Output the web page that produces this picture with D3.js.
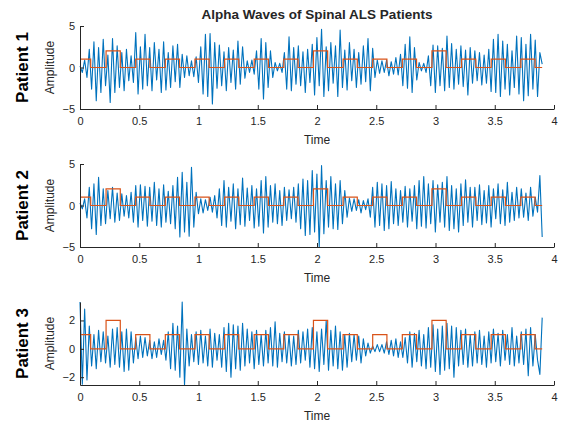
<!DOCTYPE html>
<html>
<head>
<meta charset="utf-8">
<script src="https://cdn.jsdelivr.net/npm/d3@7"></script>
<style>
  body { margin: 0; background: #fff; }
  text { font-family: "Liberation Sans", Arial, sans-serif; fill: #262626; }
</style>
</head>
<body>
<div id="chart"></div>
<script>
// Blue signal: one extremum per sample
var sampleStep = 0.0196;

var patient1 = [
  0.2,-0.6,0.9,-1.2,2.2,-2.6,3.1,-4.0,2.4,-3.0,
  3.4,-2.2,1.5,-4.2,3.5,-3.0,2.6,-2.4,1.8,-2.8,
  2.2,-1.6,1.4,-1.8,4.2,-3.2,2.5,-2.6,4.0,-2.2,
  2.4,-2.8,3.0,-1.5,2.2,-3.0,3.1,-2.7,1.8,-2.4,
  2.6,-1.7,2.8,-2.4,1.6,-1.2,1.4,-1.0,0.8,-1.1,
  1.3,-1.8,2.5,-3.2,4.0,-3.5,4.1,-4.4,3.0,-2.5,
  2.7,-2.2,1.9,-2.8,2.4,-1.8,2.1,-2.6,3.2,-2.0,
  2.5,-1.3,0.8,-0.6,0.9,-0.8,2.0,-2.6,3.5,-3.8,
  3.0,-2.4,2.0,-1.2,0.6,-0.4,0.5,-0.6,1.8,-2.6,
  3.7,-2.8,2.4,-2.0,2.6,-2.2,1.9,-3.0,2.2,-1.8,
  2.8,-3.3,3.6,-2.2,4.6,-3.5,2.5,-2.8,3.0,-1.9,
  2.6,-3.5,4.5,-2.4,2.1,-2.7,3.0,-1.6,2.2,-2.4,
  1.8,-2.0,2.6,-1.7,3.5,-2.8,2.3,-1.2,0.9,-0.7,
  0.8,-0.6,0.9,-1.0,0.7,-0.8,1.2,-0.9,1.6,-2.2,
  2.8,-2.5,3.7,-3.0,2.4,-1.5,0.6,-0.4,0.5,-0.6,
  1.4,-2.2,2.7,-3.0,2.6,-2.2,2.3,-2.8,3.8,-2.4,
  2.9,-2.6,2.2,-2.0,2.6,-2.3,2.1,-3.3,2.4,-1.9,
  2.0,-1.6,1.8,-2.1,1.5,-1.9,2.2,-2.9,3.4,-3.0,
  4.0,-3.5,3.2,-2.6,2.8,-3.3,2.0,-2.4,3.8,-3.2,
  3.6,-4.0,2.8,-3.4,4.0,-2.6,3.3,-3.5,1.8,0.4
];

var patient2 = [
  0.3,-0.4,0.8,-1.5,2.2,-2.8,2.6,-3.5,3.4,-2.4,
  2.0,-2.2,1.8,-1.6,2.2,-2.0,1.5,-1.8,1.4,-1.3,
  1.2,-1.5,1.6,-2.0,2.4,-2.6,2.5,-1.8,2.3,-2.5,
  2.2,-1.9,2.8,-2.4,2.0,-2.6,2.5,-2.0,1.7,-2.2,
  2.4,-2.8,3.4,-3.8,4.0,-3.2,2.8,-3.7,4.6,-2.6,
  1.6,-1.0,0.8,-0.9,0.7,-0.6,1.0,-0.8,1.2,-1.5,
  2.0,-2.4,3.0,-2.6,2.2,-1.9,2.6,-2.8,2.0,-2.3,
  3.3,-2.5,2.1,-1.8,2.4,-2.7,2.0,-2.5,3.0,-3.3,
  3.5,-2.6,2.4,-2.0,2.6,-2.2,1.8,-2.4,2.2,-1.8,
  1.9,-1.6,2.2,-2.0,2.6,-2.8,3.2,-3.6,3.0,-3.5,
  4.2,-3.2,3.8,-5.0,4.8,-3.4,3.0,-2.6,3.5,-2.8,
  2.6,-2.9,3.0,-2.2,1.8,-1.4,0.9,-0.7,0.8,-0.6,
  0.7,-0.9,0.6,-0.5,0.8,-1.4,2.2,-2.6,2.8,-2.4,
  2.6,-3.0,2.4,-2.8,2.9,-2.2,2.0,-2.4,1.8,-2.0,
  2.3,-2.6,2.0,-1.9,2.4,-2.8,3.0,-2.5,3.5,-2.7,
  2.6,-2.2,3.0,-3.2,2.5,-2.0,2.8,-2.6,3.5,-3.0,
  2.4,-2.8,2.0,-3.2,2.6,-2.4,3.1,-2.0,2.2,-2.6,
  2.2,-1.8,2.5,-2.3,1.8,-2.1,2.4,-2.6,2.0,-1.6,
  2.6,-2.2,1.9,-2.4,2.8,-2.0,1.6,-1.8,2.2,-1.5,
  2.0,-1.4,1.5,-1.8,2.2,-1.3,1.0,-0.8,3.6,-3.8
];

var patient3 = [
  3.3,-2.5,2.8,-2.2,1.6,-1.2,1.0,-1.4,1.3,-0.9,
  1.2,-1.0,0.9,-1.3,1.4,-1.1,1.5,-1.3,1.2,-1.6,
  1.4,-1.5,1.2,-1.0,0.8,-0.7,0.9,-0.6,0.8,-0.5,
  0.6,-0.7,0.5,-0.6,0.7,-0.4,0.6,-0.8,1.2,-1.4,
  1.8,-1.5,1.6,-2.0,3.3,-2.55,1.4,-1.2,1.0,-0.9,
  1.2,-1.1,1.3,-1.0,0.9,-1.2,1.4,-1.3,1.1,-0.8,
  1.0,-1.3,1.5,-1.6,1.8,-2.0,1.7,-1.4,1.6,-1.5,
  1.8,-1.2,1.4,-1.0,1.2,-1.4,1.3,-1.1,1.0,-1.2,
  1.3,-1.0,1.5,-1.2,1.9,-1.3,1.1,-0.9,1.2,-1.0,
  1.0,-1.2,0.9,-1.1,1.3,-1.0,1.2,-0.8,1.4,-1.3,
  1.5,-1.4,1.2,-1.6,1.4,-1.1,2.0,-1.5,1.3,-1.2,
  1.6,-1.4,1.2,-1.5,1.0,-1.3,1.1,-0.9,1.0,-0.8,
  0.9,-1.0,0.7,-0.5,0.4,-0.3,0.2,-0.2,0.3,-0.2,
  0.3,-0.3,0.5,-0.4,0.6,-0.5,0.7,-0.6,0.5,-0.6,
  0.8,-1.0,1.2,-1.3,1.1,-0.9,1.3,-1.2,1.0,-1.4,
  1.5,-1.3,1.7,-1.6,1.4,-1.8,1.6,-1.5,1.8,-1.4,
  1.6,-2.0,1.5,-1.2,1.3,-1.1,1.4,-1.3,1.0,-1.2,
  1.2,-1.0,1.3,-1.1,0.9,-1.3,1.2,-1.0,1.4,-0.9,
  1.1,-1.2,1.3,-0.8,1.0,-1.1,1.5,-1.2,0.9,-1.0,
  1.2,-1.1,1.4,-1.9,1.5,-1.2,1.0,-0.8,-1.8,2.2
];

// Orange step signal (same for all three patients)
var stepTimes = [0,0.09,0.22,0.34,0.47,0.59,0.72,0.84,0.97,1.09,1.22,1.34,1.47,1.59,
  1.72,1.84,1.97,2.09,2.22,2.34,2.47,2.59,2.72,2.84,2.97,3.09,3.22,3.34,3.47,3.59,
  3.72,3.84,3.9];
var stepLevels = [1,0,2,0,1,0,1,0,1,0,1,0,1,0,1,0,2,0,1,0,1,0,1,0,2,0,1,0,1,0,1,0,0];

var patientLabels = ["Patient 1", "Patient 2", "Patient 3"];
var xTicks = [0, 0.5, 1, 1.5, 2, 2.5, 3, 3.5, 4];
var yTickSets = [[-5, 0, 5], [-5, 0, 5], [-2, 0, 2]];

var width = 562, height = 423;
var left = 80, right = 554, panelTop = 26, panelHeight = 83, panelGap = 138;

var svg = d3.select("#chart").append("svg")
  .attr("width", width)
  .attr("height", height);

svg.append("text")
  .attr("x", (left + right) / 2)
  .attr("y", 19)
  .attr("text-anchor", "middle")
  .style("font-size", "13.5px")
  .style("font-weight", "bold")
  .text("Alpha Waves of Spinal ALS Patients");

var x = d3.scaleLinear().domain([0, 4]).range([left, right]);

var signals = [patient1, patient2, patient3];

signals.forEach(function(sig, p) {
  var top = panelTop + p * panelGap;
  var bottom = top + panelHeight;

  var yDomain = p < 2 ? [-5, 5] : d3.extent(sig);
  var y = d3.scaleLinear().domain(yDomain).range([bottom, top]);

  var g = svg.append("g");

  // Blue wave
  g.append("path")
    .datum(sig)
    .attr("fill", "none")
    .attr("stroke", "#0072BD")
    .attr("stroke-width", 1.1)
    .attr("stroke-linejoin", "round")
    .attr("d", d3.line()
      .x(function(d, i) { return x(i * sampleStep); })
      .y(function(d) { return y(d); }));

  // Step signal, drawn on top
  var stepData = stepTimes.map(function(t, i) { return [t, stepLevels[i]]; });
  g.append("path")
    .datum(stepData)
    .attr("fill", "none")
    .attr("stroke", "#D95319")
    .attr("stroke-width", 1.2)
    .attr("d", d3.line()
      .x(function(d) { return x(d[0]); })
      .y(function(d) { return y(d[1]); })
      .curve(d3.curveStepAfter));

  // Axes (ticks point inward, MATLAB style)
  var xAxis = g.append("g")
    .attr("transform", "translate(0," + bottom + ")")
    .call(d3.axisBottom(x).tickValues(xTicks).tickSizeInner(-4).tickSizeOuter(0)
      .tickFormat(d3.format("")));
  var yAxis = g.append("g")
    .attr("transform", "translate(" + left + ",0)")
    .call(d3.axisLeft(y).tickValues(yTickSets[p]).tickSizeInner(-4).tickSizeOuter(0)
      .tickFormat(d3.format("")));

  [xAxis, yAxis].forEach(function(ax) {
    ax.select(".domain").attr("stroke", "#262626");
    ax.selectAll(".tick line").attr("stroke", "#262626");
    ax.selectAll(".tick text")
      .style("font-size", "11px")
      .style("font-family", "Liberation Sans, Arial, sans-serif")
      .attr("fill", "#262626");
  });
  xAxis.selectAll(".tick text").attr("y", 8);
  yAxis.selectAll(".tick text").attr("x", -5);

  g.append("text")
    .attr("x", (left + right) / 2)
    .attr("y", bottom + 35)
    .attr("text-anchor", "middle")
    .style("font-size", "12px")
    .text("Time");

  g.append("text")
    .attr("transform", "translate(54," + (top + panelHeight / 2) + ") rotate(-90)")
    .attr("text-anchor", "middle")
    .style("font-size", "12px")
    .text("Amplitude");

  g.append("text")
    .attr("transform", "translate(28," + (top + panelHeight / 2) + ") rotate(-90)")
    .attr("text-anchor", "middle")
    .style("font-size", "17px")
    .style("font-weight", "bold")
    .style("fill", "#000")
    .text(patientLabels[p]);
});
</script>
</body>
</html>
